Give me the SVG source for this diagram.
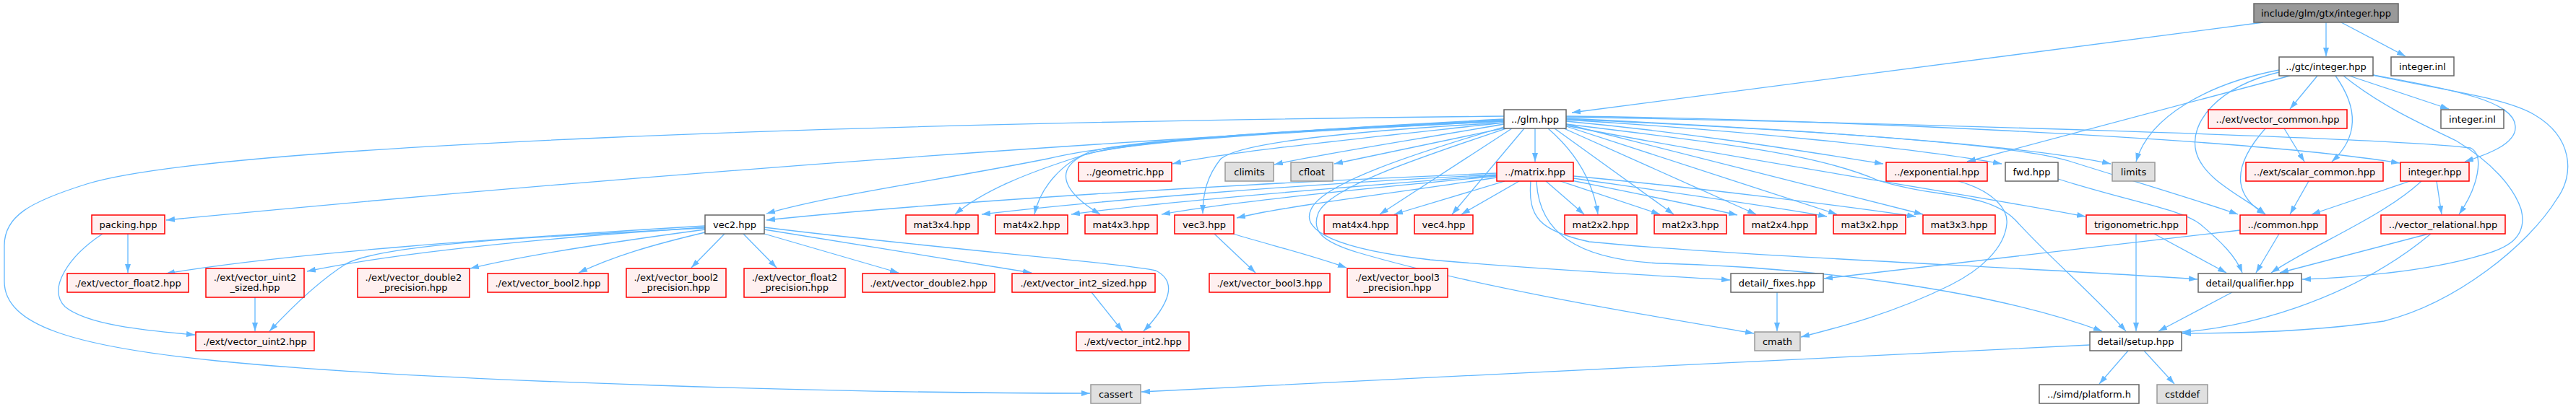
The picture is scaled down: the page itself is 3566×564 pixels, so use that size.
<svg xmlns="http://www.w3.org/2000/svg" width="3566" height="564" viewBox="0 0 3566 564">
<defs>
<marker id="arr" viewBox="0 0 12 8" refX="12" refY="4" markerWidth="12" markerHeight="8" markerUnits="userSpaceOnUse" orient="auto">
<path d="M0,0 L12,4 L0,8 Z" fill="#63b8ff"/>
</marker>
</defs>
<style>
text{font-family:"DejaVu Sans","Liberation Sans",sans-serif;font-size:13px;fill:#000;text-anchor:middle}
rect{stroke-width:1.5}
.root rect{fill:#999999;stroke:#666666}
.w rect{fill:#ffffff;stroke:#666666}
.r rect{fill:#fff0f0;stroke:#ff0000}
.g rect{fill:#e0e0e0;stroke:#999999}
#connectors path{fill:none;stroke:#63b8ff;stroke-width:1.3;marker-end:url(#arr)}
</style>
<rect width="3566" height="564" fill="#ffffff"/>
<g id="connectors">
<path d="M3133,31 L2176,156"/>
<path d="M3220,31 L3220,78"/>
<path d="M3241,31 L3330,78"/>
<path d="M3170,105 L2723,224"/>
<path d="M3155,97 C3060,115 2975,160 2957,224"/>
<path d="M3155,100 C3070,120 3030,170 3040,210 C3050,250 3110,275 3136,297"/>
<path d="M3208,105 L3170,151"/>
<path d="M3233,105 C3265,150 3265,190 3228,224"/>
<path d="M3252,105 L3390,151"/>
<path d="M3285,104 C3400,125 3480,140 3482,175 C3484,200 3440,215 3412,224"/>
<path d="M3244,105 C3300,150 3360,175 3400,195 C3450,225 3480,260 3490,290 C3500,330 3470,345 3430,355 C3360,375 3260,385 3187,387"/>
<path d="M3285,104 C3380,125 3470,135 3510,160 C3560,190 3565,240 3540,275 C3500,340 3400,420 3300,445 C3200,460 3080,462 3021,462"/>
<path d="M3162,178 L3190,224"/>
<path d="M3136,178 C3090,230 3090,270 3136,297"/>
<path d="M3196,251 L3170,297"/>
<path d="M3336,251 L3200,297"/>
<path d="M3373,251 L3380,297"/>
<path d="M3352,251 C3300,300 3200,340 3144,378"/>
<path d="M3362,324 L3156,378"/>
<path d="M3365,324 C3250,420 3100,455 3021,460"/>
<path d="M3155,324 L3123,378"/>
<path d="M3101,319 L2525,386"/>
<path d="M2957,324 L2957,459"/>
<path d="M2982,324 L3082,378"/>
<path d="M2849,248 C2950,280 3020,290 3045,310 C3075,335 3095,355 3104,378"/>
<path d="M2711,251 C2760,265 2780,290 2778,310 C2775,345 2740,375 2700,395 C2620,435 2540,455 2493,467"/>
<path d="M2168,172 C2400,200 2520,215 2600,250 C2680,275 2750,265 2790,305 C2840,360 2900,410 2943,459"/>
<path d="M2085,175 C1950,215 1830,255 1815,290 C1800,320 1850,345 1980,360 C2150,375 2300,382 2395,388"/>
<path d="M2088,177 C1960,220 1840,260 1825,295 C1815,320 1830,335 1880,350 C2050,400 2300,440 2428,462"/>
<path d="M2082,172 C1950,195 1820,215 1764,228"/>
<path d="M2085,177 L1847,227"/>
<path d="M2168,164 C2500,180 2800,200 2922,227"/>
<path d="M2082,161 C1200,170 300,200 120,255 C40,280 6,300 6,340 L6,390 C6,450 100,480 300,500 C600,530 1200,545 1509,545"/>
<path d="M2168,166 C2400,180 2650,205 2771,227"/>
<path d="M2082,165 C1800,180 1550,195 1450,220 C1300,250 1150,270 1061,296"/>
<path d="M2082,170 C1900,180 1720,195 1690,220 C1670,245 1665,270 1665,296"/>
<path d="M2110,178 L2010,297"/>
<path d="M2143,178 C2180,210 2205,250 2212,297"/>
<path d="M2152,178 L2317,297"/>
<path d="M2165,178 L2431,297"/>
<path d="M2168,175 L2543,297"/>
<path d="M2168,172 L2662,297"/>
<path d="M2082,166 C1800,180 1560,195 1500,215 C1420,240 1360,265 1322,297"/>
<path d="M2082,167 C1800,180 1560,195 1510,210 C1470,225 1440,260 1432,297"/>
<path d="M2082,168 C1800,182 1560,195 1500,215 C1460,235 1470,265 1523,297"/>
<path d="M2093,178 L1910,297"/>
<path d="M2168,174 C2400,220 2700,265 2887,300"/>
<path d="M2168,168 C2350,185 2500,210 2607,227"/>
<path d="M2168,165 C2500,180 2800,200 2870,225 C2950,250 3050,280 3098,297"/>
<path d="M2082,168 C1600,190 900,240 230,305"/>
<path d="M2082,170 C1900,190 1700,210 1623,227"/>
<path d="M2125,178 L2125,224"/>
<path d="M2168,162 C2600,170 3300,190 3420,205 C3440,215 3430,260 3404,297"/>
<path d="M2168,161 C2500,165 3100,190 3322,226"/>
<path d="M2072,240 C1700,255 1300,280 1061,305"/>
<path d="M2072,242 C1800,255 1500,280 1359,297"/>
<path d="M2072,243 C1850,260 1600,280 1483,297"/>
<path d="M2072,244 C1900,260 1700,280 1608,297"/>
<path d="M2072,246 C1950,265 1780,285 1712,302"/>
<path d="M2083,251 L1930,297"/>
<path d="M2103,251 L2023,297"/>
<path d="M2140,251 L2193,297"/>
<path d="M2160,251 L2298,297"/>
<path d="M2175,250 C2250,265 2350,285 2405,298"/>
<path d="M2178,247 C2300,265 2450,285 2529,300"/>
<path d="M2178,244 C2350,260 2550,285 2652,300"/>
<path d="M2119,251 C2115,300 2130,320 2200,335 C2400,355 2800,370 3042,387"/>
<path d="M2127,251 C2130,320 2180,360 2300,365 C2500,370 2750,400 2910,459"/>
<path d="M976,313 C700,330 400,350 230,379"/>
<path d="M976,315 C750,330 550,350 425,376"/>
<path d="M976,316 C700,330 530,340 480,365 C440,390 400,430 373,459"/>
<path d="M976,318 C850,335 720,355 651,372"/>
<path d="M976,322 C900,340 850,355 801,378"/>
<path d="M1003,324 L957,371"/>
<path d="M1029,324 L1075,371"/>
<path d="M1058,324 L1244,378"/>
<path d="M1058,318 L1428,378"/>
<path d="M1058,315 C1300,345 1560,365 1600,375 C1630,390 1620,420 1583,459"/>
<path d="M1681,324 L1738,378"/>
<path d="M1707,324 C1760,340 1820,355 1864,371"/>
<path d="M177,324 L177,378"/>
<path d="M142,324 C95,355 65,400 90,425 C120,450 200,458 270,464"/>
<path d="M353,412 L353,459"/>
<path d="M1511,405 L1554,459"/>
<path d="M2460,405 L2460,459"/>
<path d="M2893,478 C2500,495 1900,530 1580,543"/>
<path d="M2946,486 L2906,532"/>
<path d="M2968,486 L3010,532"/>
<path d="M3090,405 L2988,459"/>
</g>
<g id="root" class="root"><rect x="3120" y="5" width="200" height="26"/><text x="3220" y="22.5">include/glm/gtx/integer.hpp</text></g>
<g id="gtc_integer" class="w"><rect x="3155" y="79" width="130" height="26"/><text x="3220" y="96.5">../gtc/integer.hpp</text></g>
<g id="integer_inl_1" class="w"><rect x="3310" y="79" width="87" height="26"/><text x="3353.5" y="96.5">integer.inl</text></g>
<g id="glm" class="w"><rect x="2082" y="152" width="86" height="26"/><text x="2125" y="169.5">../glm.hpp</text></g>
<g id="vector_common" class="r"><rect x="3057" y="152" width="192" height="26"/><text x="3153" y="169.5">../ext/vector_common.hpp</text></g>
<g id="integer_inl_2" class="w"><rect x="3379" y="152" width="87" height="26"/><text x="3422.5" y="169.5">integer.inl</text></g>
<g id="geometric" class="r"><rect x="1493" y="225" width="129" height="26"/><text x="1557.5" y="242.5">../geometric.hpp</text></g>
<g id="climits" class="g"><rect x="1696" y="225" width="67" height="26"/><text x="1729.5" y="242.5">climits</text></g>
<g id="cfloat" class="g"><rect x="1787" y="225" width="58" height="26"/><text x="1816" y="242.5">cfloat</text></g>
<g id="matrix" class="r"><rect x="2072" y="225" width="106" height="26"/><text x="2125" y="242.5">../matrix.hpp</text></g>
<g id="exponential" class="r"><rect x="2611" y="225" width="140" height="26"/><text x="2681" y="242.5">../exponential.hpp</text></g>
<g id="fwd" class="w"><rect x="2776" y="225" width="73" height="26"/><text x="2812.5" y="242.5">fwd.hpp</text></g>
<g id="limits" class="g"><rect x="2924" y="225" width="59" height="26"/><text x="2953.5" y="242.5">limits</text></g>
<g id="scalar_common" class="r"><rect x="3109" y="225" width="190" height="26"/><text x="3204" y="242.5">../ext/scalar_common.hpp</text></g>
<g id="integer_hpp" class="r"><rect x="3323" y="225" width="95" height="26"/><text x="3370.5" y="242.5">integer.hpp</text></g>
<g id="packing" class="r"><rect x="127" y="298" width="101" height="26"/><text x="177.5" y="315.5">packing.hpp</text></g>
<g id="vec2" class="w"><rect x="976" y="298" width="82" height="26"/><text x="1017" y="315.5">vec2.hpp</text></g>
<g id="mat3x4" class="r"><rect x="1254" y="298" width="100" height="26"/><text x="1304" y="315.5">mat3x4.hpp</text></g>
<g id="mat4x2" class="r"><rect x="1378" y="298" width="100" height="26"/><text x="1428" y="315.5">mat4x2.hpp</text></g>
<g id="mat4x3" class="r"><rect x="1502" y="298" width="100" height="26"/><text x="1552" y="315.5">mat4x3.hpp</text></g>
<g id="vec3" class="r"><rect x="1626" y="298" width="82" height="26"/><text x="1667" y="315.5">vec3.hpp</text></g>
<g id="mat4x4" class="r"><rect x="1833" y="298" width="101" height="26"/><text x="1883.5" y="315.5">mat4x4.hpp</text></g>
<g id="vec4" class="r"><rect x="1958" y="298" width="81" height="26"/><text x="1998.5" y="315.5">vec4.hpp</text></g>
<g id="mat2x2" class="r"><rect x="2166" y="298" width="100" height="26"/><text x="2216" y="315.5">mat2x2.hpp</text></g>
<g id="mat2x3" class="r"><rect x="2290" y="298" width="100" height="26"/><text x="2340" y="315.5">mat2x3.hpp</text></g>
<g id="mat2x4" class="r"><rect x="2414" y="298" width="100" height="26"/><text x="2464" y="315.5">mat2x4.hpp</text></g>
<g id="mat3x2" class="r"><rect x="2538" y="298" width="100" height="26"/><text x="2588" y="315.5">mat3x2.hpp</text></g>
<g id="mat3x3" class="r"><rect x="2662" y="298" width="100" height="26"/><text x="2712" y="315.5">mat3x3.hpp</text></g>
<g id="trigonometric" class="r"><rect x="2888" y="298" width="139" height="26"/><text x="2957.5" y="315.5">trigonometric.hpp</text></g>
<g id="common" class="r"><rect x="3101" y="298" width="119" height="26"/><text x="3160.5" y="315.5">../common.hpp</text></g>
<g id="vector_relational" class="r"><rect x="3296" y="298" width="172" height="26"/><text x="3382" y="315.5">../vector_relational.hpp</text></g>
<g id="vector_float2" class="r"><rect x="93" y="379" width="168" height="26"/><text x="177" y="396.5">./ext/vector_float2.hpp</text></g>
<g id="vector_uint2_sized" class="r"><rect x="285" y="372" width="136" height="40"/><text x="353" y="388.5">./ext/vector_uint2</text><text x="353" y="402.5">_sized.hpp</text></g>
<g id="vector_double2_precision" class="r"><rect x="495" y="372" width="155" height="40"/><text x="572.5" y="388.5">./ext/vector_double2</text><text x="572.5" y="402.5">_precision.hpp</text></g>
<g id="vector_bool2" class="r"><rect x="675" y="379" width="167" height="26"/><text x="758.5" y="396.5">./ext/vector_bool2.hpp</text></g>
<g id="vector_bool2_precision" class="r"><rect x="867" y="372" width="138" height="40"/><text x="936" y="388.5">./ext/vector_bool2</text><text x="936" y="402.5">_precision.hpp</text></g>
<g id="vector_float2_precision" class="r"><rect x="1030" y="372" width="140" height="40"/><text x="1100" y="388.5">./ext/vector_float2</text><text x="1100" y="402.5">_precision.hpp</text></g>
<g id="vector_double2" class="r"><rect x="1194" y="379" width="183" height="26"/><text x="1285.5" y="396.5">./ext/vector_double2.hpp</text></g>
<g id="vector_int2_sized" class="r"><rect x="1401" y="379" width="198" height="26"/><text x="1500" y="396.5">./ext/vector_int2_sized.hpp</text></g>
<g id="vector_bool3" class="r"><rect x="1674" y="379" width="167" height="26"/><text x="1757.5" y="396.5">./ext/vector_bool3.hpp</text></g>
<g id="vector_bool3_precision" class="r"><rect x="1865" y="372" width="139" height="40"/><text x="1934.5" y="388.5">./ext/vector_bool3</text><text x="1934.5" y="402.5">_precision.hpp</text></g>
<g id="detail_fixes" class="w"><rect x="2396" y="379" width="128" height="26"/><text x="2460" y="396.5">detail/_fixes.hpp</text></g>
<g id="detail_qualifier" class="w"><rect x="3043" y="379" width="143" height="26"/><text x="3114.5" y="396.5">detail/qualifier.hpp</text></g>
<g id="vector_uint2" class="r"><rect x="271" y="460" width="164" height="26"/><text x="353" y="477.5">./ext/vector_uint2.hpp</text></g>
<g id="vector_int2" class="r"><rect x="1490" y="460" width="156" height="26"/><text x="1568" y="477.5">./ext/vector_int2.hpp</text></g>
<g id="cmath" class="g"><rect x="2429" y="460" width="63" height="26"/><text x="2460.5" y="477.5">cmath</text></g>
<g id="detail_setup" class="w"><rect x="2893" y="460" width="127" height="26"/><text x="2956.5" y="477.5">detail/setup.hpp</text></g>
<g id="cassert" class="g"><rect x="1510" y="533" width="69" height="26"/><text x="1544.5" y="550.5">cassert</text></g>
<g id="simd_platform" class="w"><rect x="2823" y="533" width="138" height="26"/><text x="2892" y="550.5">../simd/platform.h</text></g>
<g id="cstddef" class="g"><rect x="2986" y="533" width="70" height="26"/><text x="3021" y="550.5">cstddef</text></g>
</svg>
